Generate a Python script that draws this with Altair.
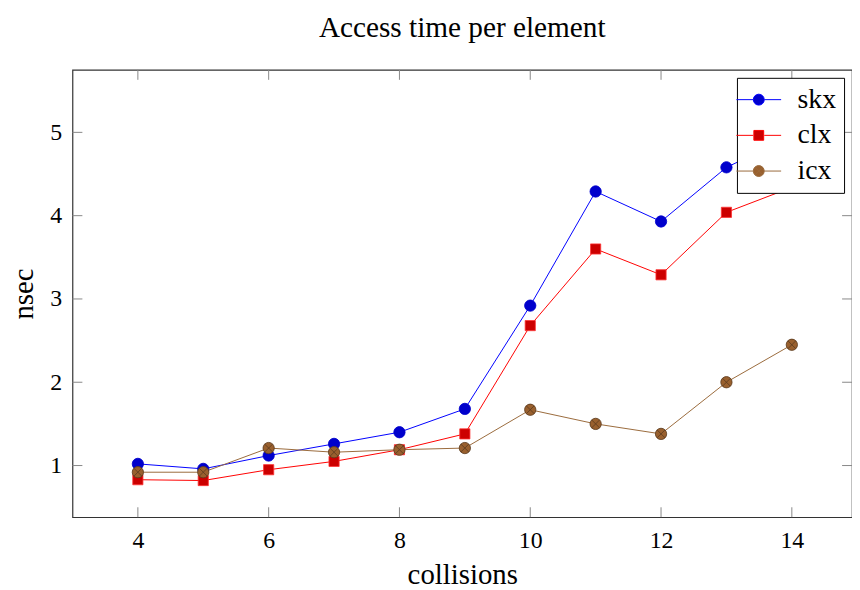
import altair as alt
import pandas as pd

collisions = [4, 5, 6, 7, 8, 9, 10, 11, 12, 13, 14]
skx = [1.02, 0.96, 1.12, 1.26, 1.40, 1.68, 2.92, 4.29, 3.93, 4.58, 4.95]
clx = [0.83, 0.82, 0.95, 1.05, 1.19, 1.38, 2.68, 3.60, 3.29, 4.04, 4.34]
icx = [0.92, 0.92, 1.21, 1.16, 1.19, 1.21, 1.67, 1.50, 1.38, 2.00, 2.45]
series_names = ["skx", "clx", "icx"]
x_ticks = [4, 6, 8, 10, 12, 14]
y_ticks = [1, 2, 3, 4, 5]

line_colors = ["#0000ff", "#ff0000", "#9a6a3c"]
fill_colors = ["#0000cc", "#cc0000", "#99602e"]
edge_colors = ["#0000cc", "#ff3333", "#5a3a1e"]

circle = "M-1,0A1,1 0 1,1 1,0A1,1 0 1,1 -1,0Z"
square = "M-0.9,-0.9L0.9,-0.9L0.9,0.9L-0.9,0.9Z"
otimes = circle + "M-0.7,-0.7L0.7,0.7M-0.7,0.7L0.7,-0.7"
seg = "M-4.1,0L-1,0M1,0L4.1,0"
legend_shapes = [seg + circle, seg + square, seg + otimes]
plot_shapes = [circle, square, otimes]

rows = []
for name, vals in zip(series_names, [skx, clx, icx]):
    for c, v in zip(collisions, vals):
        rows.append({"collisions": c, "series": name, "value": v})
df = pd.DataFrame(rows)

W, H = 786, 451
FONT = "Liberation Serif"

xs = alt.Scale(domain=[3, 14.92], nice=False, zero=False)
ys = alt.Scale(domain=[0.38, 5.75], nice=False, zero=False)

x_axis = alt.Axis(values=x_ticks, title="collisions", ticks=False, domain=False,
                  grid=False, labelPadding=12, titlePadding=8, format="d")
y_axis = alt.Axis(values=y_ticks, title="nsec", ticks=False, domain=False,
                  grid=False, labelPadding=11, titlePadding=11, format="d")


def X(f):
    return alt.X(f, scale=xs, axis=x_axis)


def Y(f):
    return alt.Y(f, scale=ys, axis=y_axis)


base = alt.Chart(df)

layers = []
for name, lc in zip(series_names, line_colors):
    layers.append(
        base.transform_filter(alt.datum.series == name)
        .mark_line(strokeWidth=1, color=lc, clip=True)
        .encode(x=X("collisions:Q"), y=Y("value:Q"))
    )

for name, shp, ec, fc in zip(series_names, plot_shapes, edge_colors, fill_colors):
    layers.append(
        base.transform_filter(alt.datum.series == name)
        .mark_point(filled=True, shape=shp, size=130, fill=fc, stroke=ec, strokeWidth=0.8,
                    opacity=1, clip=True)
        .encode(x=X("collisions:Q"), y=Y("value:Q"))
    )

leg = alt.Legend(title=None, orient="none", legendX=670, legendY=8,
                 symbolSize=121, symbolStrokeWidth=1,
                 symbolOffset=0, labelOffset=25,
                 labelFontSize=28, labelFont=FONT, labelColor="black",
                 rowPadding=8, padding=8,
                 fillColor="white", strokeColor="black",
                 cornerRadius=0, symbolOpacity=1)

legend_layer = base.transform_filter(alt.datum.collisions > 100).mark_point(
    filled=True, opacity=1, strokeWidth=1, clip=True).encode(
    x=X("collisions:Q"), y=Y("value:Q"),
    shape=alt.Shape("series:N", sort=series_names,
                    scale=alt.Scale(domain=series_names, range=legend_shapes), legend=leg),
    fill=alt.Fill("series:N", sort=series_names,
                  scale=alt.Scale(domain=series_names, range=fill_colors), legend=leg),
    stroke=alt.Stroke("series:N", sort=series_names,
                      scale=alt.Scale(domain=series_names, range=line_colors), legend=leg),
)

tick_color = "#888888"
TL = 10
xt = pd.DataFrame({"t": x_ticks})
yt = pd.DataFrame({"t": y_ticks})
bx = alt.Chart(xt).mark_rule(color=tick_color, strokeWidth=1).encode(
    x=X("t:Q"), y=alt.value(H), y2=alt.value(H - TL))
tx = alt.Chart(xt).mark_rule(color=tick_color, strokeWidth=1).encode(
    x=X("t:Q"), y=alt.value(0), y2=alt.value(TL))
ly = alt.Chart(yt).mark_rule(color=tick_color, strokeWidth=1).encode(
    y=Y("t:Q"), x=alt.value(0), x2=alt.value(TL))
ry = alt.Chart(yt).mark_rule(color=tick_color, strokeWidth=1).encode(
    y=Y("t:Q"), x=alt.value(W), x2=alt.value(W - TL))

chart = alt.layer(bx, tx, ly, ry, *layers, legend_layer).properties(
    width=W, height=H,
    title=alt.Title("Access time per element", font=FONT, fontSize=29.5, fontWeight="normal",
                    color="black", offset=26),
    autosize=alt.AutoSizeParams(type="none"),
    padding={"left": 65, "top": 60, "right": 0, "bottom": 70},
    background="white",
).configure_view(stroke="#333333", strokeWidth=1.2).configure_axis(
    labelFont=FONT, labelFontSize=24, labelColor="black",
    titleFont=FONT, titleFontSize=29, titleFontWeight="normal", titleColor="black",
)

chart.save("out.html", embed_options={"renderer": "svg", "actions": False})
